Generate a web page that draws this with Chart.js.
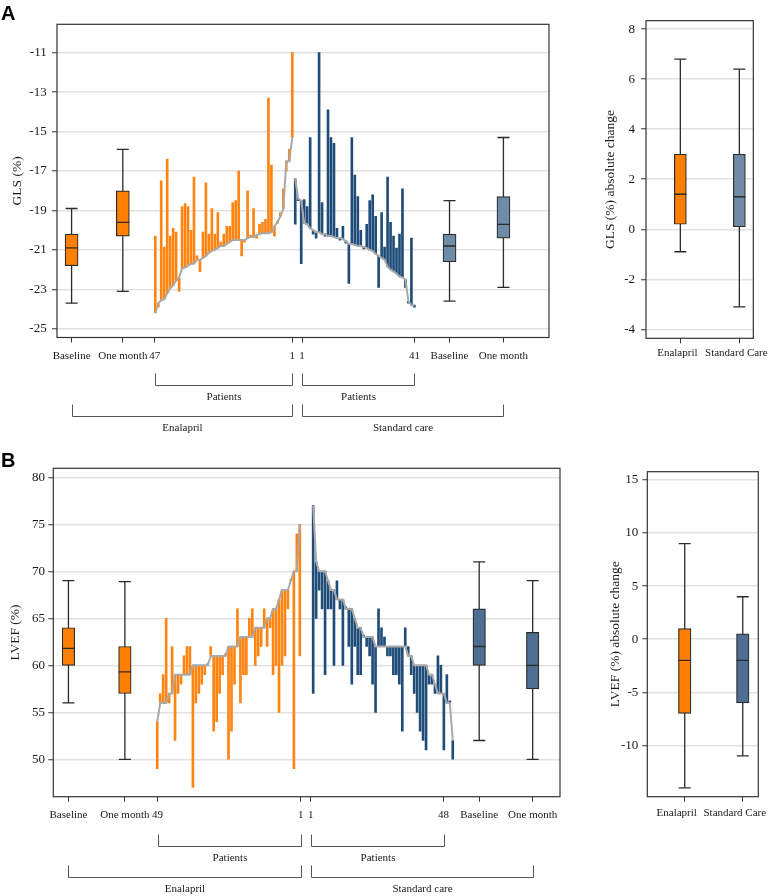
<!DOCTYPE html>
<html><head><meta charset="utf-8">
<script src="https://cdn.jsdelivr.net/npm/chart.js@4.4.1/dist/chart.umd.min.js"></script>
<style>
html,body{margin:0;padding:0;background:#fff;width:770px;height:896px;overflow:hidden;position:relative}
canvas{position:absolute}
.lbl{position:absolute;font-family:'Liberation Sans',Arial,sans-serif;font-weight:bold;font-size:20px;color:#000;line-height:20px;z-index:5}
</style></head><body>
<canvas id="cA" width="580" height="440" style="left:0;top:0"></canvas>
<canvas id="cAr" width="180" height="440" style="left:590px;top:0"></canvas>
<canvas id="cB" width="580" height="456" style="left:0;top:440px"></canvas>
<canvas id="cBr" width="180" height="456" style="left:590px;top:440px"></canvas>
<div class="lbl" style="left:1px;top:3px">A</div>
<div class="lbl" style="left:1px;top:450px">B</div>
<script>
// ---------------- DATA ----------------
// Panel A: GLS (%)
const glsTickLabels = ['Baseline', 'One month', '47', '1', '1', '41', 'Baseline', 'One month'];
// Enalapril patients, ordered by baseline (patient 47 -> 1)
const glsEnalBaseline = [-24.2, -23.7, -23.55, -23.5, -23.2, -22.95, -22.8, -22.55, -22.4, -21.95, -21.9, -21.8, -21.7, -21.7, -21.5, -21.5, -21.4, -21.3, -21.15, -21.05, -21.0, -20.9, -20.8, -20.8, -20.7, -20.6, -20.5, -20.5, -20.5, -20.5, -20.5, -20.4, -20.35, -20.35, -20.25, -20.2, -20.15, -20.15, -20.15, -20.1, -19.8, -19.6, -19.3, -18.9, -16.5, -16.5, -15.3];
const glsEnalOneMonth = [-20.3, -23.9, -17.5, -20.85, -16.4, -20.3, -19.9, -20.1, -23.1, -18.8, -18.65, -18.8, -20.0, -17.3, -21.3, -22.1, -20.1, -17.6, -20.2, -18.9, -20.2, -19.1, -20.6, -20.2, -19.8, -19.8, -18.6, -18.5, -17.0, -21.3, -20.6, -18.0, -20.25, -18.9, -20.4, -19.7, -19.6, -19.45, -13.3, -16.7, -20.3, -19.55, -19.1, -17.9, -17.0, -15.9, -11.0];
// Standard care patients (patient 1 -> 41)
const glsStdBaseline = [-17.4, -18.4, -18.5, -19.65, -19.7, -19.9, -20.0, -20.1, -20.1, -20.2, -20.2, -20.3, -20.3, -20.35, -20.4, -20.4, -20.45, -20.55, -20.7, -20.7, -20.75, -20.8, -20.8, -20.85, -20.9, -21.0, -21.05, -21.2, -21.3, -21.4, -21.5, -21.85, -22.0, -22.1, -22.2, -22.35, -22.4, -22.5, -23.6, -23.8, -23.8];
const glsStdOneMonth = [-19.7, -18.4, -21.7, -18.45, -18.8, -15.3, -20.2, -20.4, -11.0, -18.6, -20.3, -13.9, -15.3, -15.6, -19.9, -20.45, -19.8, -20.55, -22.7, -15.3, -17.2, -18.3, -20.0, -20.9, -19.7, -18.5, -18.2, -19.3, -22.9, -19.1, -20.85, -17.3, -19.6, -20.3, -20.9, -20.2, -17.9, -22.9, -23.6, -20.4, -23.8];
// box summaries: [min, q1, median, q3, max]
const glsBoxEnalBaseline = [-23.7, -21.8, -20.9, -20.2, -18.9];
const glsBoxEnalMonth = [-23.1, -20.3, -19.6, -18.0, -15.9];
const glsBoxStdBaseline = [-23.6, -21.6, -20.8, -20.2, -18.5];
const glsBoxStdMonth = [-22.9, -20.4, -19.7, -18.3, -15.3];
const glsTicks = [-25, -23, -21, -19, -17, -15, -13, -11];
// Panel A right: GLS absolute change
const changeLabels = ['Enalapril', 'Standard Care'];
const glsChangeEnal = [-0.9, 0.2, 1.4, 3.0, 6.8];
const glsChangeStd = [-3.1, 0.1, 1.3, 3.0, 6.4];
const glsChangeTicks = [-4, -2, 0, 2, 4, 6, 8];

// Panel B: LVEF (%)
const lvefTickLabels = ['Baseline', 'One month', '49', '1', '1', '48', 'Baseline', 'One month'];
const lvefEnalBaseline = [54, 56, 56, 56, 57, 57, 59, 59, 59, 59, 59, 59, 60, 60, 60, 60, 60, 60, 61, 61, 61, 61, 61, 61, 62, 62, 62, 62, 63, 63, 63, 63, 63, 64, 64, 64, 64, 65, 65, 66, 66, 67, 68, 68, 68, 69, 70, 70, 75];
const lvefEnalOneMonth = [49, 57, 59, 65, 56, 62, 52, 57, 58, 61, 62, 62, 47, 56, 57, 58, 59, 60, 62, 53, 54, 57, 59, 61, 50, 53, 58, 66, 56, 59, 59, 65, 66, 60, 61, 62, 66, 62, 64, 59, 60, 55, 60, 61, 66, 69, 49, 74, 61];
const lvefStdBaseline = [77, 71, 70, 70, 70, 69, 68, 68, 67, 67, 67, 66, 66, 66, 65, 64, 64, 63, 63, 63, 63, 62, 62, 62, 62, 62, 62, 62, 62, 62, 62, 62, 61, 61, 60, 60, 60, 60, 60, 59, 59, 58, 57, 57, 57, 56, 56, 52];
const lvefStdOneMonth = [57, 65, 68, 66, 59, 66, 66, 60, 69, 66, 60, 66, 62, 58, 62, 59, 59, 63, 62, 61, 58, 55, 66, 64, 63, 61, 61, 59, 59, 58, 53, 64, 62, 59, 57, 55, 53, 52, 51, 58, 58, 57, 61, 60, 51, 59, 56, 50];
const lvefBoxEnalBaseline = [56, 60, 61.8, 64, 69];
const lvefBoxEnalMonth = [50, 57, 59.3, 62, 68.9];
const lvefBoxStdBaseline = [52, 60, 62, 66, 71];
const lvefBoxStdMonth = [50, 57.5, 60, 63.5, 69];
const lvefTicks = [50, 55, 60, 65, 70, 75, 80];
const lvefChangeEnal = [-14, -7, -2, 1, 9];
const lvefChangeStd = [-11, -6, -2, 0.5, 4];
const lvefChangeTicks = [-10, -5, 0, 5, 10, 15];

const bracketTexts = ['Patients', 'Patients', 'Enalapril', 'Standard care'];

// ---------------- STYLE / LAYOUT ----------------
const INK = '#2b2b2b';
const ORANGE = '#FF8412';
const ORANGE_BOX = '#FF7F00';
const NAVY = '#1F4D78';
const GRAYLINE = '#A9A9A9';
const GRID = '#E1E1E1';
const SERIF = "'Liberation Serif', 'Times New Roman', serif";
Chart.defaults.font.family = SERIF;
Chart.defaults.color = '#1a1a1a';
Chart.defaults.animation = false;

const framePlugin = {
  id: 'frame',
  afterDatasetsDraw(chart) {
    const {ctx, chartArea: a} = chart;
    ctx.save();
    ctx.strokeStyle = '#333';
    ctx.lineWidth = 1.2;
    ctx.strokeRect(a.left, a.top, a.right - a.left, a.bottom - a.top);
    ctx.restore();
  }
};
const bracketPlugin = {
  id: 'brackets',
  afterDraw(chart, args, opts) {
    if (!opts || !opts.items) return;
    const {ctx, chartArea, scales: {x}} = chart;
    ctx.save();
    ctx.strokeStyle = '#555';
    ctx.lineWidth = 1;
    ctx.fillStyle = '#1a1a1a';
    ctx.font = '11px ' + SERIF;
    ctx.textAlign = 'center';
    ctx.textBaseline = 'middle';
    for (const it of opts.items) {
      const x1 = Math.round(x.getPixelForValue(it.from)) + 0.5;
      const x2 = Math.round(x.getPixelForValue(it.to)) + 0.5;
      const y1 = Math.round(chartArea.bottom + it.dy) + 0.5;
      const y2 = y1 + 12;
      ctx.beginPath();
      ctx.moveTo(x1, y1); ctx.lineTo(x1, y2); ctx.lineTo(x2, y2); ctx.lineTo(x2, y1);
      ctx.stroke();
      ctx.fillText(it.label, (x1 + x2) / 2, y2 + it.gap);
    }
    ctx.restore();
  }
};

function boxDatasets(pos, s, fill, w) {
  const [mn, q1, md, q3, mx] = s;
  return [
    {type: 'line', data: [{x: pos, y: mn}, {x: pos, y: mx}], borderColor: INK, borderWidth: 1.3, pointRadius: 0, order: 9},
    {type: 'bar', data: [{x: pos, y: [q1, q3]}], backgroundColor: fill, borderColor: INK, borderWidth: 1.2,
      borderSkipped: false, barThickness: w, grouped: false, order: 8},
    {type: 'scatter', data: [{x: pos, y: mn}, {x: pos, y: mx}], pointStyle: 'line', pointRadius: 6,
      pointBorderColor: INK, borderColor: INK, pointBorderWidth: 1.3, order: 7},
    {type: 'scatter', data: [{x: pos, y: md}], pointStyle: 'line', pointRadius: w / 2,
      pointBorderColor: INK, borderColor: INK, pointBorderWidth: 1.3, order: 6}
  ];
}
function patientDatasets(x0, base, month, color) {
  return [
    {type: 'bar', data: base.map((b, i) => ({x: x0 + i, y: [b, month[i]]})), backgroundColor: color,
      barThickness: 2, grouped: false, minBarLength: 2, order: 12},
    {type: 'line', data: base.map((b, i) => ({x: x0 + i, y: b})), borderColor: GRAYLINE, borderWidth: 2,
      pointRadius: 0, order: 1}
  ];
}
function yScale(min, max, ticks, title, width, pad) {
  return {
    type: 'linear', min, max,
    afterBuildTicks: s => { s.ticks = ticks.map(v => ({value: v})); },
    afterFit: s => { s.width = width; s.paddingTop = 0; s.paddingBottom = 0; },
    ticks: {font: {size: 13}, padding: pad, color: '#1a1a1a', callback: v => String(v)},
    grid: {color: GRID, lineWidth: 1.5, tickColor: '#333', tickLength: 5, tickWidth: 1},
    border: {display: false},
    title: {display: true, text: title, font: {size: 13.5}, padding: 0, color: '#1a1a1a'}
  };
}
function xScale(min, max, pos, labels, pad, labelOffset) {
  return {
    type: 'linear', min, max, offset: false,
    afterBuildTicks: s => { s.ticks = pos.map(v => ({value: v})); },
    afterFit: s => { s.height = 30; s.paddingLeft = 0; s.paddingRight = 0; },
    ticks: {font: {size: 11}, padding: pad, autoSkip: false, maxRotation: 0, minRotation: 0, color: '#1a1a1a',
      labelOffset: labelOffset || 0, callback: (v, i) => labels[i]},
    grid: {display: true, drawOnChartArea: false, offset: false, tickColor: '#333', tickLength: 5, tickWidth: 1},
    border: {display: false}
  };
}
function makeChart(id, datasets, scales, padding, brackets) {
  return new Chart(document.getElementById(id), {
    type: 'bar',
    data: {datasets},
    options: {
      responsive: false, animation: false,
      layout: {padding, autoPadding: false},
      plugins: {legend: {display: false}, tooltip: {enabled: false}, brackets: {items: brackets}},
      scales
    },
    plugins: [framePlugin, bracketPlugin]
  });
}

// ---- Panel A main ----
const aPos = [4.9, 22.1, 32.8, 79, 82.3, 120, 131.8, 149.9];
makeChart('cA', [
  ...patientDatasets(33, glsEnalBaseline, glsEnalOneMonth, ORANGE),
  ...patientDatasets(80, glsStdBaseline, glsStdOneMonth, NAVY),
  ...boxDatasets(aPos[0], glsBoxEnalBaseline, ORANGE_BOX, 13),
  ...boxDatasets(aPos[1], glsBoxEnalMonth, ORANGE_BOX, 13),
  ...boxDatasets(aPos[6], glsBoxStdBaseline, '#6E8BA8', 13),
  ...boxDatasets(aPos[7], glsBoxStdMonth, '#6E8BA8', 13)
], {
  x: xScale(0, 165.2, aPos, glsTickLabels, 7),
  y: yScale(-25.44, -9.56, glsTicks, 'GLS (%)', 48, 5.3)
}, {left: 9, top: 24.3, right: 31, bottom: 440 - 337.5 - 30}, [
  {from: aPos[2], to: aPos[3], dy: 35, gap: 12, label: bracketTexts[0]},
  {from: aPos[4], to: aPos[5], dy: 35, gap: 12, label: bracketTexts[1]},
  {from: aPos[0], to: aPos[3], dy: 66, gap: 12, label: bracketTexts[2]},
  {from: aPos[4], to: aPos[7], dy: 66, gap: 12, label: bracketTexts[3]}
]);

// ---- Panel A right ----
const arPos = [3.2, 8.7];
makeChart('cAr', [
  ...boxDatasets(arPos[0], glsChangeEnal, ORANGE_BOX, 12),
  ...boxDatasets(arPos[1], glsChangeStd, '#6E8BA8', 12)
], {
  x: xScale(0, 10, arPos, changeLabels, 3, -3),
  y: yScale(-4.36, 8.34, glsChangeTicks, 'GLS (%) absolute change', 43.8, 6)
}, {left: 12.2, top: 20.7, right: 16.7, bottom: 440 - 338.3 - 30}, null);

// ---- Panel B main ----
const bPos = [5.1, 24.1, 35.1, 83.3, 86.7, 131.4, 143.4, 161.4];
makeChart('cB', [
  ...patientDatasets(35, lvefEnalBaseline, lvefEnalOneMonth, ORANGE),
  ...patientDatasets(87.5, lvefStdBaseline, lvefStdOneMonth, NAVY),
  ...boxDatasets(bPos[0], lvefBoxEnalBaseline, ORANGE_BOX, 12.5),
  ...boxDatasets(bPos[1], lvefBoxEnalMonth, ORANGE_BOX, 12.5),
  ...boxDatasets(bPos[6], lvefBoxStdBaseline, '#4E6F93', 12.5),
  ...boxDatasets(bPos[7], lvefBoxStdMonth, '#4E6F93', 12.5)
], {
  x: xScale(0, 170.6, bPos, lvefTickLabels, 7),
  y: yScale(46.02, 80.96, lvefTicks, 'LVEF (%)', 46.3, 3.3)
}, {left: 7, top: 28.3, right: 20, bottom: 456 - 356.7 - 30}, [
  {from: bPos[2], to: bPos[3], dy: 37, gap: 12, label: bracketTexts[0]},
  {from: bPos[4], to: bPos[5], dy: 37, gap: 12, label: bracketTexts[1]},
  {from: bPos[0], to: bPos[3], dy: 68, gap: 12, label: bracketTexts[2]},
  {from: bPos[4], to: bPos[7], dy: 68, gap: 12, label: bracketTexts[3]}
]);

// ---- Panel B right ----
const brPos = [3.37, 8.6];
makeChart('cBr', [
  ...boxDatasets(brPos[0], lvefChangeEnal, ORANGE_BOX, 12.5),
  ...boxDatasets(brPos[1], lvefChangeStd, '#4E6F93', 12.5)
], {
  x: xScale(0, 10, brPos, changeLabels, 4.4, -8),
  y: yScale(-14.84, 15.78, lvefChangeTicks, 'LVEF (%) absolute change', 40.1, 4)
}, {left: 17.2, top: 31.7, right: 11.7, bottom: 456 - 356.7 - 30}, null);
</script>
</body></html>
